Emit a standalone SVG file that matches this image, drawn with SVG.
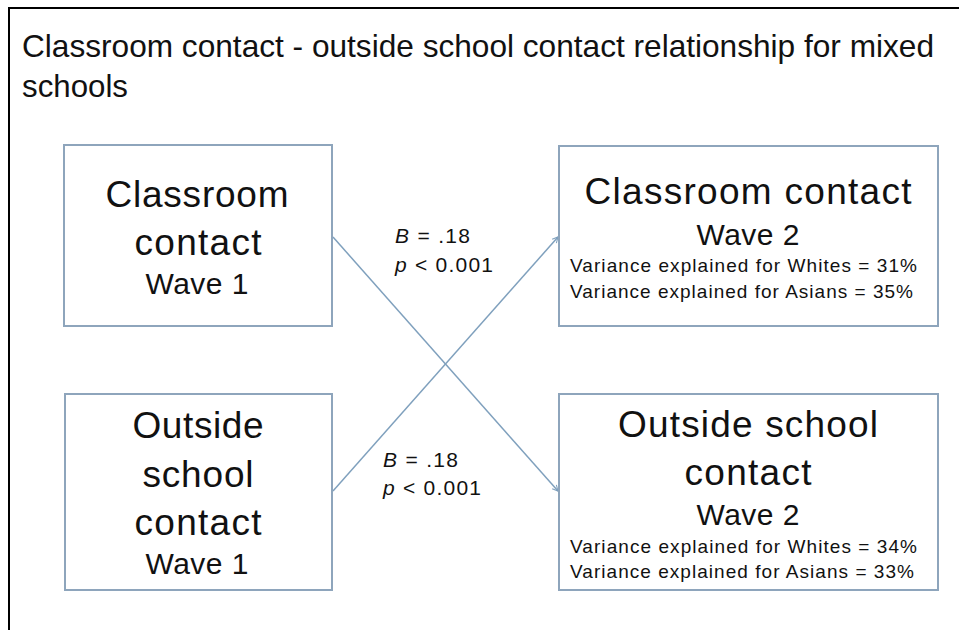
<svg xmlns="http://www.w3.org/2000/svg" width="959" height="630" viewBox="0 0 959 630">
<style>
text{font-family:"Liberation Sans",Arial,sans-serif;fill:#111}
.box{fill:#fff;stroke:#8ea5bc;stroke-width:2}
.big{font-size:37px;text-anchor:middle}
.wave{font-size:30px;text-anchor:middle}
.var{font-size:19px}
.lab{font-size:21px}
.title{font-size:32px}
.conn{stroke:#7fa0bd;stroke-width:1.5;fill:none;marker-end:url(#arr)}
</style>
<defs>
<marker id="arr" viewBox="0 0 10 10" refX="9" refY="5" markerWidth="7" markerHeight="7" orient="auto" markerUnits="userSpaceOnUse">
<path d="M1,1 L9,5 L1,9" fill="none" stroke="#7fa0bd" stroke-width="1.5"/>
</marker>
</defs>
<rect x="0" y="0" width="959" height="630" fill="#fff"/>
<path d="M9,630 V8 H959" fill="none" stroke="#000" stroke-width="2"/>
<g id="title">
<text class="title" x="22" y="57" textLength="912" lengthAdjust="spacingAndGlyphs">Classroom contact - outside school contact relationship for mixed</text>
<text class="title" x="22" y="97" textLength="106" lengthAdjust="spacingAndGlyphs">schools</text>
</g>
<g id="connectors">
<line class="conn" x1="333" y1="237" x2="558" y2="491"/>
<line class="conn" x1="333" y1="491" x2="558" y2="237"/>
<g id="label1">
<text class="lab" x="395" y="243" textLength="75"><tspan font-style="italic">B</tspan> = .18</text>
<text class="lab" x="395" y="272" textLength="98"><tspan font-style="italic">p</tspan> &lt; 0.001</text>
</g>
<g id="label2">
<text class="lab" x="383" y="467" textLength="75"><tspan font-style="italic">B</tspan> = .18</text>
<text class="lab" x="383" y="495" textLength="98"><tspan font-style="italic">p</tspan> &lt; 0.001</text>
</g>
</g>
<g id="n1">
<rect class="box" x="64" y="145" width="268" height="181"/>
<text class="big" x="197" y="207" textLength="183">Classroom</text>
<text class="big" x="198" y="255" textLength="127">contact</text>
<text class="wave" x="197" y="294" textLength="103">Wave 1</text>
</g>
<g id="n2">
<rect class="box" x="65" y="394" width="267" height="196"/>
<text class="big" x="198" y="438" textLength="131">Outside</text>
<text class="big" x="198" y="487" textLength="111">school</text>
<text class="big" x="198" y="535" textLength="127">contact</text>
<text class="wave" x="197" y="574" textLength="103">Wave 1</text>
</g>
<g id="n3">
<rect class="box" x="559" y="146" width="379" height="180"/>
<text class="big" x="748" y="204" textLength="327">Classroom contact</text>
<text class="wave" x="748" y="245" textLength="103">Wave 2</text>
<text class="var" x="570" y="272" textLength="347">Variance explained for Whites = 31%</text>
<text class="var" x="570" y="298" textLength="343">Variance explained for Asians = 35%</text>
</g>
<g id="n4">
<rect class="box" x="559" y="394" width="379" height="196"/>
<text class="big" x="748" y="437" textLength="260">Outside school</text>
<text class="big" x="748" y="485" textLength="127">contact</text>
<text class="wave" x="748" y="525" textLength="103">Wave 2</text>
<text class="var" x="570" y="553" textLength="347">Variance explained for Whites = 34%</text>
<text class="var" x="570" y="578" textLength="344">Variance explained for Asians = 33%</text>
</g>
</svg>
